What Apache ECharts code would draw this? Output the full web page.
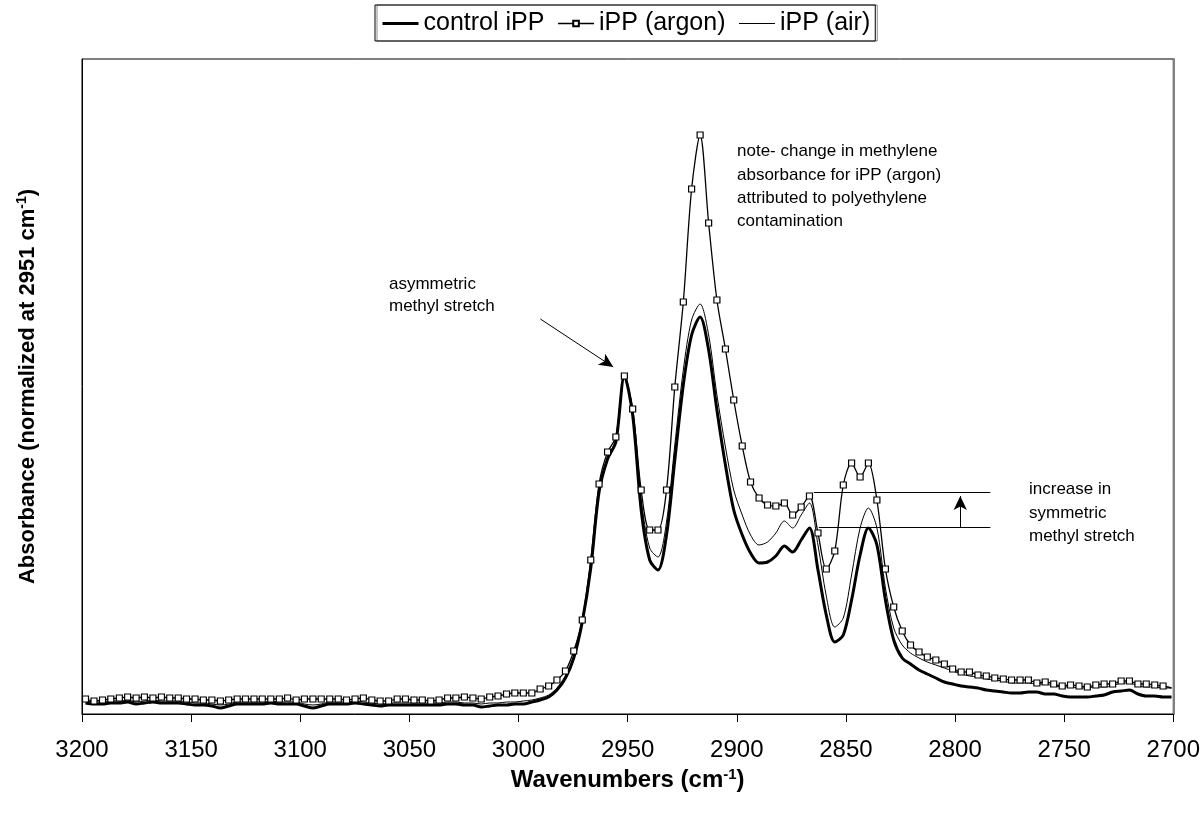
<!DOCTYPE html>
<html><head><meta charset="utf-8">
<script src="https://cdn.jsdelivr.net/npm/echarts@6/dist/echarts.min.js"></script>
<style>html,body{margin:0;padding:0;background:#fff;overflow:hidden}#c{width:1203px;height:818px}</style>
</head><body><div id="c"></div>
<script>
// ---- data (wavenumber in cm-1, absorbance in arbitrary normalized units) ----
const wavenumbers = [3198.4,3194.5,3190.6,3186.8,3182.9,3179.1,3175.2,3171.4,3167.5,3163.6,
3159.8,3155.9,3152.1,3148.2,3144.4,3140.5,3136.6,3132.8,3128.9,3125.1,
3121.2,3117.4,3113.5,3109.6,3105.8,3101.9,3098.1,3094.2,3090.4,3086.5,
3082.6,3078.8,3074.9,3071.1,3067.2,3063.4,3059.5,3055.6,3051.8,3047.9,
3044.1,3040.2,3036.4,3032.5,3028.7,3024.8,3020.9,3017.1,3013.2,3009.4,
3005.5,3001.7,2997.8,2993.9,2990.1,2986.2,2982.4,2978.5,2974.7,2970.8,
2966.9,2963.1,2959.2,2955.4,2951.5,2947.7,2943.8,2939.9,2936.1,2932.2,
2928.4,2924.5,2920.7,2916.8,
2912.9,2909.1,2905.2,2901.4,2897.5,2893.7,2889.8,2885.9,2882.1,2878.2,
2874.4,2870.5,2866.7,2862.8,2859.0,2855.1,2851.2,2847.4,2843.5,2839.7,
2835.8,2831.9,2828.1,2824.2,2820.4,2816.5,2812.7,2808.8,2804.9,2801.1,
2797.2,2793.4,2789.5,2785.7,2781.8,2777.9,2774.1,2770.2,2766.4,2762.5,
2758.7,2754.8,2750.9,2747.1,2743.2,2739.4,2735.5,2731.7,2727.8,2723.9,
2720.1,2716.2,2712.4,2708.5,2704.7,2700.8];

const controlIPP = [11,10,10,11,11,12,10,11,12,11,
11,11,10,9,9,8,6,8,10,10,
10,10,11,10,10,10,8,6,8,10,
10,10,11,10,9,8,9,9,9,9,
9,9,9,10,10,9,9,7,8,9,
9,10,10,12,14,17,24,36,56,92,
146,222,255,272,338,299,204,154,144,179,
254,329,379,397,
364,304,249,204,179,161,151,152,158,168,
162,174,186,144,99,72,79,114,159,186,
169,114,74,56,50,44,40,36,32,30,
28,27,26,24,23,22,21,21,22,22,
20,20,18,17,17,17,18,19,22,23,
24,20,18,18,17,17];

const argonIPP = [15,13,14,15,16,17,16,17,16,17,
16,16,15,15,14,14,13,14,15,15,
15,15,15,15,16,14,15,15,15,15,
15,14,15,16,14,13,13,15,15,14,
14,13,14,16,16,17,16,15,17,18,
20,21,21,21,25,28,34,43,63,94,
154,230,262,277,338,305,224,184,184,224,
327,412,525,579,
491,414,365,314,268,232,216,209,208,211,
199,207,218,181,145,163,229,251,237,251,
214,145,107,83,69,62,57,54,50,45,
42,42,39,38,36,35,34,34,34,31,
32,30,28,29,28,27,29,30,30,33,
33,30,30,29,28,26];

const airIPP = [13,12,12,13,13,14,12,13,14,13,
13,13,12,11,11,10,9,10,12,12,
12,12,13,12,12,12,10,9,10,12,
12,12,13,12,11,10,11,11,11,11,
11,11,11,12,12,11,11,10,11,11,
12,12,13,14,16,19,26,38,58,94,
148,225,257,274,338,302,214,166,157,192,
269,344,394,410,
379,319,267,224,199,179,169,172,181,193,
186,199,211,169,118,87,96,139,186,206,
186,126,86,69,61,56,52,49,46,43,
40,38,37,35,34,33,31,31,31,30,
30,28,27,27,26,26,27,27,28,31,
31,28,27,27,26,26];

const seriesNames = ['control iPP', 'iPP (argon)', 'iPP (air)'];
const xTickMin = 2700, xTickMax = 3200, xTickStep = 50;
const yMin = 0, yMax = 655;

// annotations (data coordinates: [wavenumber, absorbance])
const asymArrow = [[2990.0, 395], [2956.6, 347]];
const symUpperLine = [[2864.7, 222], [2783.8, 222]];
const symLowerLine = [[2862.4, 187], [2783.8, 187]];
const symArrow = [[2797.6, 187], [2797.6, 218]];
const noteAsym = 'asymmetric\nmethyl stretch';
const noteMethylene = 'note- change in methylene\nabsorbance for iPP (argon)\nattributed to polyethylene\ncontamination';
const noteSym = 'increase in\nsymmetric\nmethyl stretch';

const FONT = 'Liberation Sans, Arial, sans-serif';

const pair = (arr) => wavenumbers.map((w, i) => [w, arr[i]]);
const argonData = wavenumbers.map((w, i) => (i === wavenumbers.length - 1)
  ? { value: [w, argonIPP[i]], symbol: 'none' } : [w, argonIPP[i]]);

const chart = echarts.init(document.getElementById('c'), null, { renderer: 'canvas', width: 1203, height: 818 });
const option = {
  animation: false,
  backgroundColor: '#fff',
  textStyle: { fontFamily: FONT },
  grid: { left: 82, top: 59, right: 28, bottom: 104, show: true, borderColor: '#000', borderWidth: 1 },
  legend: {
    data: [
      { name: seriesNames[0], itemStyle: { opacity: 0 }, lineStyle: { width: 3, color: '#000' } },
      { name: seriesNames[1], lineStyle: { width: 1.3, color: '#000' } },
      { name: seriesNames[2], itemStyle: { opacity: 0 }, lineStyle: { width: 1, color: '#000' } }
    ],
    left: 375, top: 5,
    itemWidth: 36, itemHeight: 7, itemGap: 13,
    padding: [6, 5, 5, 6],
    borderColor: '#000', borderWidth: 1, borderRadius: 0,
    shadowColor: 'rgba(0,0,0,0.45)', shadowOffsetX: 2, shadowOffsetY: 0, shadowBlur: 0,
    textStyle: { fontSize: 25, color: '#000', fontFamily: FONT }
  },
  xAxis: {
    type: 'value', min: xTickMin, max: xTickMax, interval: xTickStep, inverse: true,
    axisLine: { show: true, lineStyle: { color: '#000', width: 1 } },
    axisTick: { show: true, length: 8, lineStyle: { color: '#000' } },
    axisLabel: { fontSize: 24, color: '#000', margin: 24, fontFamily: FONT, formatter: (v) => String(v) },
    splitLine: { show: false },
    name: '{b|Wavenumbers (cm}{s|-1}{b|)}',
    nameLocation: 'middle', nameGap: 50,
    nameTextStyle: {
      rich: {
        b: { fontSize: 24, fontWeight: 'bold', color: '#000', fontFamily: FONT },
        s: { fontSize: 15, fontWeight: 'bold', color: '#000', fontFamily: FONT, padding: [0, 0, 12, 0] }
      }
    }
  },
  yAxis: [{
    type: 'value', min: yMin, max: yMax,
    axisLine: { show: true, lineStyle: { color: '#000' } },
    axisTick: { show: false }, axisLabel: { show: false }, splitLine: { show: false },
    name: '{b|Absorbance (normalized at 2951 cm}{s|-1}{b|)}',
    nameLocation: 'middle', nameGap: 42, nameRotate: 90,
    nameTextStyle: {
      rich: {
        b: { fontSize: 22, fontWeight: 'bold', color: '#000', fontFamily: FONT },
        s: { fontSize: 14, fontWeight: 'bold', color: '#000', fontFamily: FONT, padding: [0, 0, 11, 0] }
      }
    }
  }, {
    type: 'value', min: yMin, max: yMax, position: 'right',
    axisLine: { show: true, onZero: false, lineStyle: { color: '#808080', width: 2 } },
    axisTick: { show: false }, axisLabel: { show: false }, splitLine: { show: false }
  }],
  series: [
    {
      name: seriesNames[0], type: 'line', data: pair(controlIPP), symbol: 'none', smooth: 0.3,
      lineStyle: { color: '#000', width: 3 }, itemStyle: { color: '#000' }, z: 2
    },
    {
      name: seriesNames[1], type: 'line', data: argonData, symbol: 'rect', symbolSize: 6, smooth: 0.3,
      lineStyle: { color: '#000', width: 1.3 },
      itemStyle: { color: '#fff', borderColor: '#000', borderWidth: 1.2 }, z: 4
    },
    {
      name: seriesNames[2], type: 'line', data: pair(airIPP), symbol: 'none', smooth: 0.3,
      lineStyle: { color: '#000', width: 1 }, itemStyle: { color: '#000' }, z: 3,
      markLine: {
        silent: true, animation: false, symbol: 'none',
        label: { show: false },
        lineStyle: { color: '#000', width: 1, type: 'solid' },
        data: [
          [{ coord: asymArrow[0], symbol: 'none' }, { coord: asymArrow[1], symbol: 'arrow', symbolSize: [10, 14] }],
          [{ coord: symUpperLine[0], symbol: 'none' }, { coord: symUpperLine[1], symbol: 'none' }],
          [{ coord: symLowerLine[0], symbol: 'none' }, { coord: symLowerLine[1], symbol: 'none' }],
          [{ coord: symArrow[0], symbol: 'none' }, { coord: symArrow[1], symbol: 'arrow', symbolSize: [10, 14] }]
        ]
      }
    }
  ],
  graphic: [
    { type: 'text', left: 389, top: 273, style: { text: noteAsym, fontSize: 17, fontFamily: FONT, fill: '#000', lineHeight: 22 } },
    { type: 'text', left: 737, top: 140, style: { text: noteMethylene, fontSize: 17, fontFamily: FONT, fill: '#000', lineHeight: 23.3 } },
    { type: 'text', left: 1029, top: 478, style: { text: noteSym, fontSize: 17, fontFamily: FONT, fill: '#000', lineHeight: 23.5 } }
  ]
};
chart.setOption(option);
</script>
</body></html>
